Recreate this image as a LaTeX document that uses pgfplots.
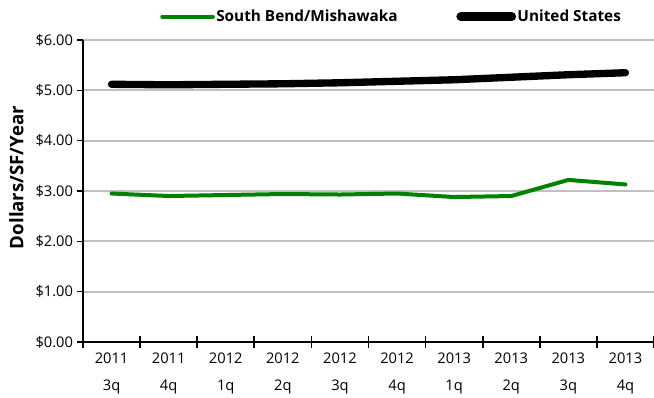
\documentclass[border=0pt]{standalone}
\usepackage{pgfplots}
\pgfplotsset{compat=1.18}
\usepackage{fontspec}
\setmainfont{Open Sans}
\definecolor{sbgreen}{RGB}{0,130,0}
\definecolor{gridgray}{RGB}{192,192,192}
\begin{document}
\begin{tikzpicture}
\path[use as bounding box] (0pt,0pt) rectangle (490.5pt,298.5pt);
\begin{axis}[
  at={(62.25pt,42pt)}, anchor=south west,
  scale only axis, width=428.25pt, height=226.5pt,
  xmin=0, xmax=10, ymin=0, ymax=6,
  axis x line=bottom, axis y line=left,
  axis line style={line width=1.6pt,-},
  xtick={0.5,1.5,...,9.5},
  xticklabels={{2011\\3q},{2011\\4q},{2012\\1q},{2012\\2q},{2012\\3q},{2012\\4q},{2013\\1q},{2013\\2q},{2013\\3q},{2013\\4q}},
  x tick label style={align=center, font=\fontsize{11}{20.5}\selectfont, yshift=-2pt},
  major x tick style={draw=none},
  minor xtick={0,1,...,10},
  minor tick length=9pt,
  xtick align=center,
  minor x tick style={line width=1.2pt,black},
  ytick={0,1,...,6},
  yticklabels={\$0.00,\$1.00,\$2.00,\$3.00,\$4.00,\$5.00,\$6.00},
  y tick label style={font=\fontsize{11}{13}\selectfont, xshift=0.5pt},
  ytick align=outside, major tick length=4.5pt,
  y tick style={line width=1.2pt,black},
  ymajorgrids, grid style={gridgray,line width=1.5pt},
  ylabel={\bfseries Dollars/SF/Year},
  ylabel style={font=\fontsize{14}{16}\selectfont, at={(axis description cs:0,0.545)}, anchor=south, yshift=41pt},
  legend columns=2,
  legend style={at={(0,1)}, anchor=west, xshift=57.75pt, yshift=17.5pt, draw=none, fill=none, inner sep=0pt,
    font=\fontsize{11.5}{13}\selectfont\bfseries,
    nodes={inner xsep=1pt},
    /tikz/every odd column/.style={column sep=0pt},
    /tikz/every even column/.style={column sep=43pt}},
  legend image code/.code={\draw[#1] (0pt,0pt) -- (38pt,0pt);},
  legend cell align=left,
  clip=false,
]
\addlegendimage{sbgreen, line width=3pt, line cap=round}
\addlegendentry{South Bend/Mishawaka}
\addlegendimage{black, line width=6.8pt, line cap=round}
\addlegendentry{United States}
\addplot[forget plot, sbgreen, line width=3pt, line join=round, line cap=round] coordinates {
(0.5,2.95) (1.5,2.90) (2.5,2.92) (3.5,2.94) (4.5,2.93) (5.5,2.95) (6.5,2.88) (7.5,2.90) (8.5,3.22) (9.5,3.13)};
\addplot[forget plot, black, line width=5.5pt, line join=round, line cap=round] coordinates {
(0.5,5.12) (1.5,5.11) (2.5,5.12) (3.5,5.13) (4.5,5.15) (5.5,5.18) (6.5,5.21) (7.5,5.26) (8.5,5.31) (9.5,5.35)};
\end{axis}
\end{tikzpicture}
\end{document}
